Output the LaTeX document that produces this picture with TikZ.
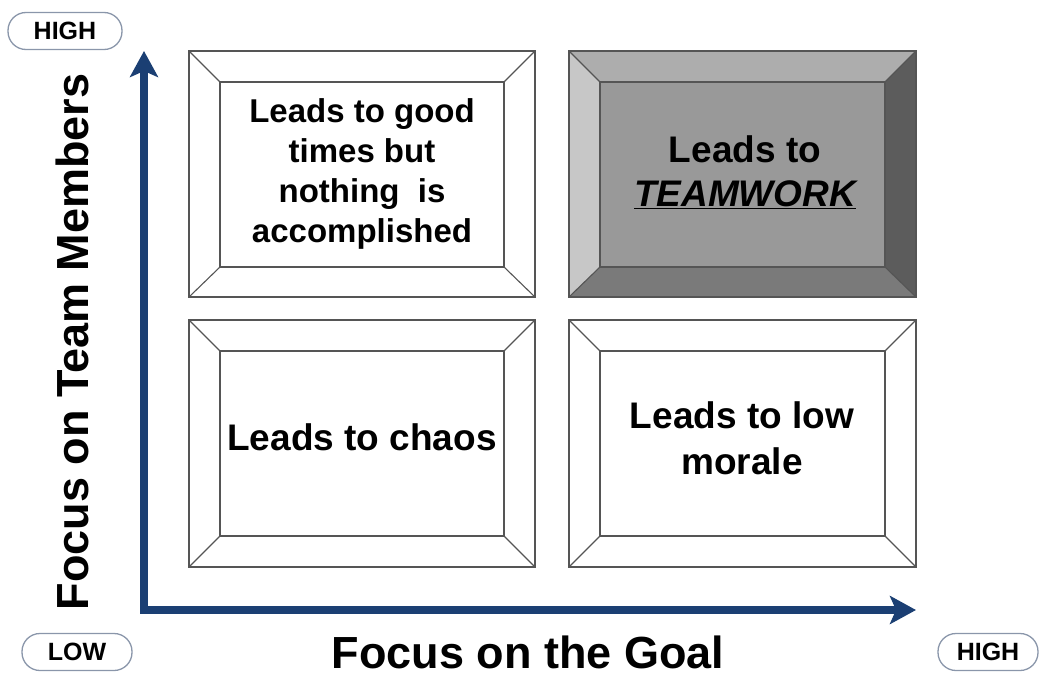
\documentclass[tikz,border=0pt]{standalone}
\usepackage{fontspec}
\setmainfont{Liberation Sans}
\usetikzlibrary{arrows.meta}
\definecolor{axisblue}{HTML}{1B3F73}
\definecolor{pillline}{HTML}{8A96AA}
\definecolor{bevline}{HTML}{555555}
\tikzset{
  pill/.style={draw=pillline, line width=1.3pt, rounded corners=18pt, minimum width=112pt, minimum height=37pt, font=\fontsize{25}{28}\selectfont\bfseries, inner sep=0pt},
  boxtext/.style={align=center, font=\fontsize{33}{40}\selectfont\bfseries},
  bigtext/.style={align=center, font=\fontsize{37}{46}\selectfont\bfseries},
  bev/.style={draw=bevline, line width=1.1pt},
  axislabel/.style={font=\fontsize{45}{52}\selectfont\bfseries, inner sep=0pt},
  axisline/.style={draw=axisblue, line width=8pt, line join=miter, {Stealth[width=28pt,length=26pt,inset=6pt]}-{Stealth[width=28pt,length=26pt,inset=6pt]}}
}
\newcommand{\bevelbox}[8]{%
  \draw[bev] (#1,#2) rectangle (#3,#4);
  \draw[bev] (#5,#6) rectangle (#7,#8);
  \draw[bev] (#1,#2) -- (#5,#6);
  \draw[bev] (#3,#2) -- (#7,#6);
  \draw[bev] (#1,#4) -- (#5,#8);
  \draw[bev] (#3,#4) -- (#7,#8);
}
\begin{document}
\begin{tikzpicture}[x=1pt,y=-1pt]
\useasboundingbox (0,0) rectangle (1042,677);
% top-left box
\bevelbox{189}{51}{535}{297}{220}{82}{504}{267}
\node[boxtext] (tl) at (362,174) {Leads to good\\times but\\nothing\ \ is\\accomplished};
% top-right shaded box
\fill[black!32!white] (569,51) -- (916,51) -- (885,82) -- (600,82) -- cycle;
\fill[black!22!white] (569,51) -- (600,82) -- (600,267) -- (569,297) -- cycle;
\fill[black!52!white] (569,297) -- (600,267) -- (885,267) -- (916,297) -- cycle;
\fill[black!64!white] (916,51) -- (885,82) -- (885,267) -- (916,297) -- cycle;
\fill[black!40!white] (600,82) rectangle (885,267);
\bevelbox{569}{51}{916}{297}{600}{82}{885}{267}
\node[bigtext, font=\fontsize{37}{44}\selectfont\bfseries] (tr) at (745,172) {Leads to\\\underline{\itshape TEAMWORK}};
% bottom-left box
\bevelbox{189}{320}{535}{567}{220}{351}{504}{536}
\node[bigtext] (bl) at (362,437) {Leads to chaos};
% bottom-right box
\bevelbox{569}{320}{916}{567}{600}{351}{885}{536}
\node[bigtext] (br) at (742,438) {Leads to low\\morale};
% axes
\coordinate (ytop) at (144,51);
\coordinate (origin) at (144,610);
\coordinate (xend) at (916,610);
\draw[axisline] (ytop) -- (origin) -- (xend);
\node[axislabel, rotate=90] (ylab) at (72,342) {Focus on Team Members};
\node[axislabel] (xlab) at (528,652) {Focus on the Goal};
% pills
\node[pill, minimum width=114pt] (high1) at (65,31) {HIGH};
\node[pill, minimum width=110pt] (low) at (77,652) {LOW};
\node[pill, minimum width=100pt] (high2) at (988,652) {HIGH};
\end{tikzpicture}
\end{document}
